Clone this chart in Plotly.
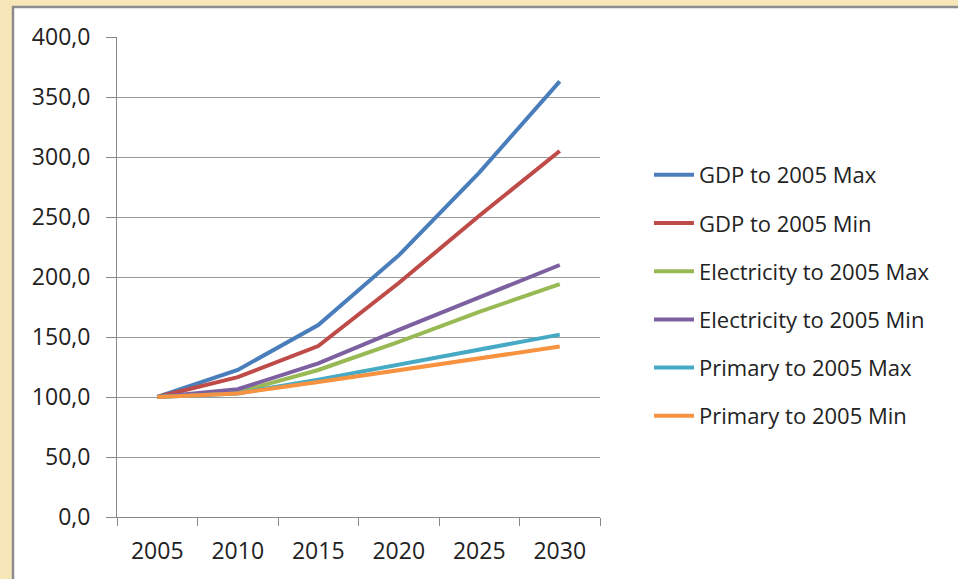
import plotly.graph_objects as go

years = ["2005", "2010", "2015", "2020", "2025", "2030"]
gdp_max = [100.0, 122.5, 160.0, 218.0, 287.0, 363.0]
gdp_min = [100.0, 116.5, 142.5, 195.0, 251.0, 305.0]
elec_max = [100.0, 104.0, 122.5, 146.0, 171.0, 194.0]
elec_min = [100.0, 106.5, 128.0, 156.0, 183.0, 210.0]
prim_max = [100.0, 103.0, 114.5, 127.0, 139.0, 152.0]
prim_min = [100.0, 103.0, 112.5, 122.5, 132.0, 142.0]

series = [
    ("GDP to 2005 Max", gdp_max, "#4A7EBB"),
    ("GDP to 2005 Min", gdp_min, "#BE4B48"),
    ("Electricity to 2005 Max", elec_max, "#98B954"),
    ("Electricity to 2005 Min", elec_min, "#7D60A0"),
    ("Primary to 2005 Max", prim_max, "#46AAC5"),
    ("Primary to 2005 Min", prim_min, "#F69240"),
]

fig = go.Figure()
for i, (name, vals, col) in enumerate(series):
    fig.add_trace(go.Scatter(x=years, y=vals, name=name, mode="lines",
                             line=dict(color=col, width=4),
                             legendgroup=str(i)))

W, H = 958, 579
L, R, T, B = 117, 358, 37, 62
pw, ph = W - L - R, H - T - B

def px_x(v):
    return (v - L) / pw

def px_y(v):
    return (H - B - v) / ph

fig.add_shape(type="rect", xref="paper", yref="paper",
              x0=px_x(13), x1=px_x(1000), y0=px_y(620), y1=px_y(7),
              fillcolor="white", line=dict(color="#8C8C8C", width=2.5),
              layer="below")

FONT = "Open Sans, Liberation Sans, sans-serif"
fig.update_layout(
    width=W, height=H,
    margin=dict(l=L, r=R, t=T, b=B),
    paper_bgcolor="#F6E6B8",
    plot_bgcolor="rgba(0,0,0,0)",
    separators=",.",
    font=dict(family=FONT, size=22, color="#222222"),
    showlegend=True,
    legend=dict(x=px_x(649), y=px_y(154), xanchor="left", yanchor="top",
                tracegroupgap=16.6, traceorder="grouped",
                font=dict(size=22, color="#222222"),
                bgcolor="rgba(0,0,0,0)", itemwidth=40),
    xaxis=dict(type="category", range=[-0.5, 5.5], tickson="boundaries",
               ticks="outside", ticklen=8, tickcolor="#888888",
               showline=True, linecolor="#888888", linewidth=1,
               showgrid=False, ticklabelstandoff=13,
               tickfont=dict(size=23)),
    yaxis=dict(range=[0, 400], dtick=50, tickformat=".1f",
               ticks="outside", ticklen=10, tickcolor="#888888",
               showline=True, linecolor="#888888", linewidth=1,
               gridcolor="#999999", gridwidth=1, zeroline=False,
               ticklabelstandoff=11, tickfont=dict(size=23)),
)

fig.write_html("out.html", config={"displayModeBar": False},
               post_script="document.body.style.margin='0';document.body.style.background='#F6E6B8';")
